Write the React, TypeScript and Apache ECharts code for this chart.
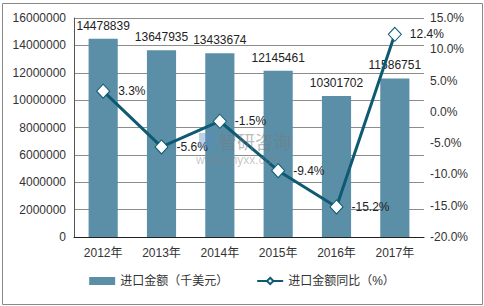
import React, { useEffect, useRef } from "react";
import * as echarts from "echarts";

const categories = ["2012年", "2013年", "2014年", "2015年", "2016年", "2017年"];
const importValues = [14478839, 13647935, 13433674, 12145461, 10301702, 11586751];
const yoyValues = [3.3, -5.6, -1.5, -9.4, -15.2, 12.4];
const barName = "进口金额（千美元）";
const lineName = "进口金额同比（%）";

const FONT = "'Liberation Sans', Arial, 'Noto Sans CJK SC', sans-serif";

export default function App() {
  const ref = useRef<HTMLDivElement>(null);
  useEffect(() => {
    if (!ref.current) return;
    const chart = echarts.init(ref.current, undefined, { renderer: "svg" });
    chart.setOption({
      animation: false,
      backgroundColor: "#ffffff",
      textStyle: { fontFamily: FONT },
      grid: { left: 74, right: 60, top: 18, bottom: 69 },
      legend: {
        bottom: 14,
        left: "center",
        itemWidth: 26,
        itemHeight: 8,
        itemGap: 28,
        textStyle: { fontSize: 12, color: "#333", fontFamily: FONT },
        data: [
          { name: barName, icon: "rect" },
          { name: lineName },
        ],
      },
      graphic: [
        {
          type: "rect",
          shape: { x: 2.5, y: 3.5, width: 480, height: 301 },
          style: { fill: "none", stroke: "#888", lineWidth: 1 },
          silent: true,
        },
        {
          type: "rect",
          shape: { x: 199, y: 133, width: 15, height: 15 },
          z: 100,
          style: { fill: "rgba(90,140,190,0.4)" },
        },
        {
          type: "text",
          left: 219,
          top: 132,
          z: 100,
          style: { text: "智研咨询", fontSize: 18, fill: "rgba(120,120,120,0.5)", fontFamily: "'Noto Sans CJK SC'" },
        },
        {
          type: "text",
          left: 196,
          top: 154,
          z: 100,
          style: { text: "www.chyxx.com", fontSize: 12, fill: "rgba(130,130,130,0.45)", fontFamily: FONT },
        },
      ],
      xAxis: {
        type: "category",
        data: categories,
        axisTick: { show: false },
        axisLine: { lineStyle: { color: "#222", width: 1 } },
        axisLabel: { fontSize: 12, color: "#333", margin: 10 },
      },
      yAxis: [
        {
          type: "value",
          min: 0,
          max: 16000000,
          interval: 2000000,
          axisLine: { show: true, lineStyle: { color: "#555" } },
          axisTick: { show: false },
          splitLine: { lineStyle: { color: "#8c8c8c", width: 1 } },
          axisLabel: { fontSize: 12, color: "#333", margin: 8, formatter: (v: number) => String(v) },
        },
        {
          type: "value",
          min: -20,
          max: 15,
          interval: 5,
          axisLine: { show: false },
          axisTick: { show: false },
          splitLine: { show: false },
          axisLabel: {
            fontSize: 12,
            color: "#333",
            margin: 6,
            formatter: (v: number) => v.toFixed(1) + "%",
          },
        },
      ],
      series: [
        {
          name: barName,
          type: "bar",
          data: importValues,
          barWidth: "50%",
          itemStyle: { color: "#5b8fa8" },
          label: { show: true, position: "top", distance: 7, fontSize: 12, color: "#222" },
        },
        {
          name: lineName,
          type: "line",
          yAxisIndex: 1,
          data: yoyValues,
          symbol: "diamond",
          symbolSize: [13, 14],
          lineStyle: { color: "#0e5a73", width: 3 },
          itemStyle: { color: "#ffffff", borderColor: "#0e5a73", borderWidth: 1 },
          label: {
            show: true,
            position: "right",
            distance: 8,
            fontSize: 12,
            color: "#222",
            formatter: (p: any) => p.value.toFixed(1) + "%",
          },
          z: 5,
        },
      ],
    });
    return () => chart.dispose();
  }, []);
  return (
    <div
      ref={ref}
      style={{ position: "fixed", left: 0, top: 0, width: 484, height: 306, background: "#fff" }}
    />
  );
}
